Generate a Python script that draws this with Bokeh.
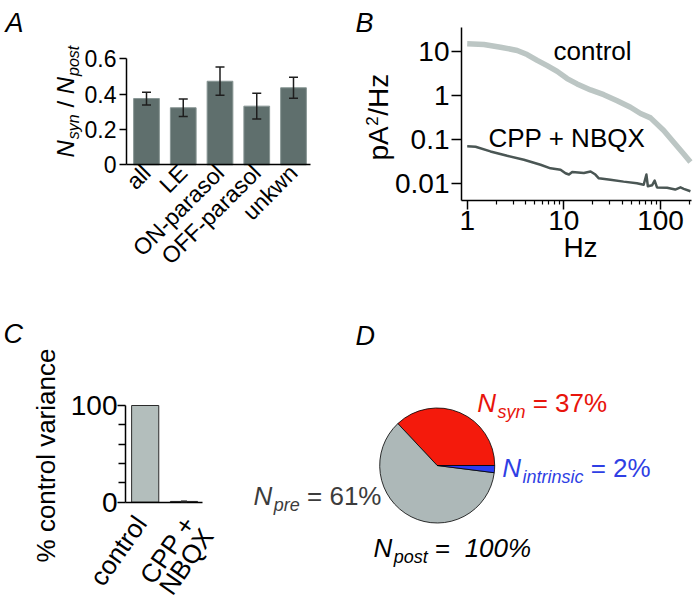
import math
import numpy as np
from bokeh.plotting import figure
from bokeh.layouts import column, row
from bokeh.models import (Range1d, FixedTicker, CustomJSTickFormatter, Label,
                          Whisker, ColumnDataSource, TeeHead)
from bokeh.embed import file_html
from bokeh.resources import INLINE

FONT = "Liberation Sans"

# ---------------- data ----------------
# Panel A
cell_types = ["all", "LE", "ON-parasol", "OFF-parasol", "unkwn"]
nsyn_over_npost = [0.375, 0.323, 0.473, 0.332, 0.436]
nsyn_sem = [0.036, 0.050, 0.080, 0.073, 0.060]
ratio_ticks = [0, 0.2, 0.4, 0.6]

# Panel B
freq_control = [1.0, 1.49, 2.21, 3.29, 4.17, 5.30, 6.72, 8.53, 10.8, 13.7,
                18.9, 25.9, 35.6, 48.9, 62.1, 78.8, 108, 137, 174, 204]
psd_control = [14.7, 14.2, 12.3, 10.4, 8.4, 6.2, 4.7, 3.5, 2.4, 1.82,
               1.33, 1.04, 0.76, 0.54, 0.39, 0.31, 0.16, 0.087, 0.047, 0.031]
freq_cpp = [1.0, 1.22, 1.74, 2.59, 3.86, 5.74, 7.28, 9.24, 10.4, 11.3,
            12.2, 16.1, 18.9, 21.2, 23.0, 30.3, 41.5, 57.0, 67.0, 71.5,
            74.0, 82.0, 87.0, 92.0, 117, 142, 161, 174, 204]
psd_cpp = [0.0706, 0.069, 0.054, 0.043, 0.035, 0.027, 0.0224, 0.0209, 0.0173, 0.0162,
           0.0184, 0.0176, 0.019, 0.0162, 0.0133, 0.0124, 0.0112, 0.0103, 0.0095, 0.0162,
           0.0088, 0.0093, 0.0118, 0.0083, 0.0081, 0.0074, 0.0083, 0.0077, 0.0068]
psd_ticks = [0.01, 0.1, 1, 10]
freq_ticks = [1, 10, 100]
freq_minor = [2, 3, 4, 5, 6, 7, 8, 9, 20, 30, 40, 50, 60, 70, 80, 90, 200]

# Panel C
conditions = ["control", "CPP +\nNBQX"]
variance_pct = [100, 0.8]
variance_err = [0, 0.5]
variance_ticks = [0, 100]
variance_minor = [20, 40, 60, 80]

# Panel D
components = ["syn", "pre", "intrinsic"]
component_pct = [37, 61, 2]
component_colors = ["#f41a0c", "#adb8b8", "#2c3df2"]

# ---------------- helpers ----------------
W_EM = {' ': 278, '%': 889, '+': 584, '/': 278, '=': 584, 'A': 667, 'B': 667,
        'C': 722, 'H': 722, 'N': 722, 'P': 667, 'Q': 778, 'X': 667, 'a': 556,
        'c': 500, 'e': 556, 'i': 222, 'l': 222, 'n': 556, 'o': 556, 'p': 556,
        'r': 333, 's': 500, 't': 278, 'y': 500, 'z': 500}
BASE_FIX = 0.37   # measured offset of the rendered baseline, in em


def tw(s, size):
    return sum(W_EM.get(c, 556) for c in s) * size / 1000.0


def lin_val(p, p0, v0, p1, v1):
    return v0 + (p - p0) * (v1 - v0) / (p1 - p0)


def lin_range(size, p0, v0, p1, v1):
    a, b = lin_val(0, p0, v0, p1, v1), lin_val(size, p0, v0, p1, v1)
    return Range1d(min(a, b), max(a, b))


def log_val(p, p0, v0, p1, v1):
    return 10 ** lin_val(p, p0, math.log10(v0), p1, math.log10(v1))


def log_range(size, p0, v0, p1, v1):
    a, b = log_val(0, p0, v0, p1, v1), log_val(size, p0, v0, p1, v1)
    return Range1d(min(a, b), max(a, b))


def panel_fig(panel, **kw):
    x0, y0, w, h = panel
    p = figure(width=w, height=h, output_backend="svg", toolbar_location=None,
               min_border_left=0, min_border_top=0, min_border_right=0,
               min_border_bottom=0, **kw)
    p.outline_line_color = None
    p.grid.visible = False
    p.border_fill_color = "white"
    p.background_fill_color = "white"
    return p


def style_axis(ax, size, tick_out, standoff):
    ax.axis_line_color = "black"
    ax.axis_line_width = 1.5
    ax.major_tick_line_color = "black"
    ax.major_tick_line_width = 1.5
    ax.minor_tick_line_color = "black"
    ax.minor_tick_line_width = 1.2
    ax.major_tick_in = 0
    ax.minor_tick_in = 0
    ax.major_tick_out = tick_out
    ax.major_label_text_font = FONT
    ax.major_label_text_font_size = f"{size}px"
    ax.major_label_text_color = "black"
    ax.major_label_standoff = standoff


def put(p, panel, px, py, text, size, color="black", style="normal", angle=0.0, align="left"):
    x0, y0, w, h = panel
    px -= BASE_FIX * size * math.sin(angle)
    py -= BASE_FIX * size * math.cos(angle)
    p.add_layout(Label(x=px - x0, y=h - (py - y0), x_units="screen", y_units="screen",
                       text=text, text_font=FONT, text_font_size=f"{size}px",
                       text_color=color, text_font_style=style, angle=angle,
                       text_align=align, text_baseline="alphabetic"))


def put_at_data(p, x, y, dx, dy, text, size, angle=0.0, align="right", color="black"):
    # (dx, dy): pixel offset of the baseline anchor from the data point, dy downwards
    dx -= BASE_FIX * size * math.sin(angle)
    dy -= BASE_FIX * size * math.cos(angle)
    p.add_layout(Label(x=x, y=y, x_offset=dx, y_offset=-dy, text=text, text_font=FONT,
                       text_font_size=f"{size}px", text_color=color, angle=angle,
                       text_align=align, text_baseline="alphabetic"))


def rich(p, panel, px, py, parts, angle=0.0):
    ux, uy = math.cos(angle), -math.sin(angle)
    dx, dy = math.sin(angle), math.cos(angle)
    pos = 0.0
    for text, size, style, color, shift, gap in parts:
        x = px + ux * pos + dx * shift
        y = py + uy * pos + dy * shift
        put(p, panel, x, y, text, size, color, style, angle)
        pos += tw(text, size) + gap


# ---------------- Panel A ----------------
PA = (0, 0, 340, 290)
ax_map = (146, 0, 293, 4)            # page-x pixel <-> bar index
ay_map = (164.3, 0, 58.3, 0.6)       # page-y pixel <-> ratio
pA = panel_fig(PA, x_range=lin_range(PA[2], ax_map[0] - PA[0], ax_map[1], ax_map[2] - PA[0], ax_map[3]),
               y_range=lin_range(PA[3], ay_map[0] - PA[1], ay_map[1], ay_map[2] - PA[1], ay_map[3]))
xa = list(range(len(cell_types)))
srcA = ColumnDataSource(dict(x=xa, top=nsyn_over_npost,
                             upper=[v + e for v, e in zip(nsyn_over_npost, nsyn_sem)],
                             lower=[v - e for v, e in zip(nsyn_over_npost, nsyn_sem)]))
pA.vbar(x="x", top="top", width=0.7, bottom=0, source=srcA,
        fill_color="#5f6f6d", line_color="#889694", line_width=1)
wA = Whisker(base="x", upper="upper", lower="lower", source=srcA,
             line_color="#1e1e1e", line_width=1.5, level="annotation",
             upper_head=TeeHead(size=9, line_color="#1e1e1e", line_width=1.5),
             lower_head=TeeHead(size=9, line_color="#1e1e1e", line_width=1.5))
pA.add_layout(wA)
a_left = lin_val(126, *ax_map)
a_right = lin_val(310, *ax_map)
ay = pA.yaxis[0]
style_axis(ay, 23, 7, 3)
ay.ticker = FixedTicker(ticks=ratio_ticks, minor_ticks=[])
ay.formatter = CustomJSTickFormatter(code="return tick == 0 ? '0' : tick.toFixed(1);")
ay.fixed_location = a_left
ay.bounds = (0, 0.6)
axA = pA.xaxis[0]
style_axis(axA, 23, 0, 4)
axA.ticker = FixedTicker(ticks=xa, minor_ticks=[])
axA.formatter = CustomJSTickFormatter(args=dict(names=cell_types),
                                      code="return names[Math.round(tick)];")
axA.major_label_orientation = math.pi / 4
axA.fixed_location = 0
axA.bounds = (a_left, a_right)
put(pA, PA, 5, 32, "A", 27, style="italic")
rich(pA, PA, 73.5, 157, [
    ("N", 24, "italic", "black", 0, 1),
    ("syn", 16, "italic", "black", 5, tw(" ", 24)),
    ("/", 24, "normal", "black", 0, tw(" ", 24)),
    ("N", 24, "italic", "black", 0, 1),
    ("post", 16, "italic", "black", 5, 0),
], angle=math.pi / 2)

# ---------------- Panel B ----------------
PB = (340, 0, 353, 290)
bx_map = (466.7, 1, 660, 100)        # page-x pixel <-> Hz
by_map = (50.7, 10, 183.3, 0.01)     # page-y pixel <-> pA^2/Hz
pB = panel_fig(PB, x_axis_type="log", y_axis_type="log",
               x_range=log_range(PB[2], bx_map[0] - PB[0], bx_map[1], bx_map[2] - PB[0], bx_map[3]),
               y_range=log_range(PB[3], by_map[0] - PB[1], by_map[1], by_map[2] - PB[1], by_map[3]))
pB.line(freq_control, psd_control, line_color="#bcc6c4", line_width=5.5, line_join="round")
pB.line(freq_cpp, psd_cpp, line_color="#4a5654", line_width=2.5, line_join="round")
b_left = log_val(461, *bx_map)
b_right = log_val(690.7, *bx_map)
b_bottom = log_val(199.5, *by_map)
b_top = log_val(27, *by_map)
bx = pB.xaxis[0]
style_axis(bx, 28, 9, 2)
bx.minor_tick_out = 4
bx.ticker = FixedTicker(ticks=freq_ticks, minor_ticks=freq_minor)
bx.formatter = CustomJSTickFormatter(code="return String(tick);")
bx.fixed_location = b_bottom
bx.bounds = (b_left, b_right)
by = pB.yaxis[0]
style_axis(by, 28, 10, 2)
by.minor_tick_out = 0
by.ticker = FixedTicker(ticks=psd_ticks, minor_ticks=[])
by.formatter = CustomJSTickFormatter(code="return String(tick);")
by.fixed_location = b_left
by.bounds = (b_bottom, b_top)
put(pB, PB, 355, 32, "B", 27, style="italic")
put(pB, PB, 553, 60, "control", 26)
put(pB, PB, 488, 146.7, "CPP + NBQX", 26)
put(pB, PB, 580, 257, "Hz", 28, align="center")
rich(pB, PB, 388, 160, [
    ("pA", 28, "normal", "black", 0, 0.5),
    ("2", 17, "normal", "black", -10, 0.5),
    ("/Hz", 28, "normal", "black", 0, 0),
], angle=math.pi / 2)

# ---------------- Panel C ----------------
PC = (0, 290, 240, 320)
cx_map = (144.7, 0, 183.5, 1)
cy_map = (501.7, 0, 405, 100)
pC = panel_fig(PC, x_range=lin_range(PC[2], cx_map[0] - PC[0], cx_map[1], cx_map[2] - PC[0], cx_map[3]),
               y_range=lin_range(PC[3], cy_map[0] - PC[1], cy_map[1], cy_map[2] - PC[1], cy_map[3]))
xc = list(range(len(conditions)))
srcC = ColumnDataSource(dict(x=xc, top=variance_pct,
                             upper=[v + e for v, e in zip(variance_pct, variance_err)],
                             lower=[max(v - e, 0) for v, e in zip(variance_pct, variance_err)]))
pC.vbar(x="x", top="top", width=0.7, bottom=0, source=srcC,
        fill_color="#b3bebc", line_color="#2b2b2b", line_width=1)
wC = Whisker(base="x", upper="upper", lower="lower", source=srcC,
             line_color="#2b2b2b", line_width=1, level="annotation",
             upper_head=TeeHead(size=6, line_color="#2b2b2b", line_width=1),
             lower_head=TeeHead(size=6, line_color="#2b2b2b", line_width=1))
pC.add_layout(wC)
c_left = lin_val(125, *cx_map)
c_right = lin_val(201.7, *cx_map)
cy = pC.yaxis[0]
style_axis(cy, 28, 8, 0)
cy.minor_tick_out = 7
cy.minor_tick_line_width = 1.5
cy.ticker = FixedTicker(ticks=variance_ticks, minor_ticks=variance_minor)
cy.fixed_location = c_left
cy.bounds = (0, 100)
cxa = pC.xaxis[0]
style_axis(cxa, 25, 0, 4)
cxa.ticker = FixedTicker(ticks=xc, minor_ticks=[])
cxa.formatter = CustomJSTickFormatter(code="return '';")
cxa.fixed_location = 0
cxa.bounds = (c_left, c_right)
# rotated, right-aligned category labels (one Label per line), tied to the tick positions
c_ang = math.radians(55)
line_gap = 22
label_dx = [3.3, 13.3]
for i, name in enumerate(conditions):
    for j, line in enumerate(name.split("\n")):
        put_at_data(pC, xc[i], 0, label_dx[i] + j * line_gap * math.sin(c_ang),
                    22 + j * line_gap * math.cos(c_ang), line, 26, angle=c_ang)
put(pC, PC, 3, 343, "C", 27, style="italic")
put(pC, PC, 55, 455, "% control variance", 26, angle=math.pi / 2, align="center")

# ---------------- Panel D ----------------
PD = (240, 290, 453, 320)
pD = panel_fig(PD, x_range=Range1d(0, PD[2]), y_range=Range1d(0, PD[3]),
               x_axis_location=None, y_axis_location=None)
frac = np.array(component_pct, dtype=float) / np.sum(component_pct)
ends = np.cumsum(frac) * 2 * math.pi
starts = np.concatenate([[0.0], ends[:-1]])
srcD = ColumnDataSource(dict(start=starts, end=ends, color=component_colors))
pie_cx, pie_cy = 436.7 - PD[0], PD[3] - (465 - PD[1])
pD.wedge(x=pie_cx, y=pie_cy, radius=57.5, start_angle="start", end_angle="end",
         fill_color="color", line_color="black", line_width=0.8, source=srcD)
put(pD, PD, 355, 345, "D", 27, style="italic")
sp = tw(" ", 26)
red, blue, grey = "#e8140c", "#2f3fe4", "#3c3c3c"
rich(pD, PD, 476.7, 412, [
    ("N", 26, "italic", red, 0, 1.5),
    ("syn", 18, "italic", red, 6, sp),
    ("= 37%", 26, "normal", red, 0, 0)])
rich(pD, PD, 501.7, 477, [
    ("N", 26, "italic", blue, 0, 1.5),
    ("intrinsic", 18, "italic", blue, 6, sp),
    ("= 2%", 26, "normal", blue, 0, 0)])
rich(pD, PD, 253, 505, [
    ("N", 26, "italic", grey, 0, 1.5),
    ("pre", 18, "italic", grey, 6, sp),
    ("= 61%", 26, "normal", grey, 0, 0)])
rich(pD, PD, 373, 557, [
    ("N", 26, "italic", "black", 0, 1.5),
    ("post", 18, "italic", "black", 6, sp),
    ("=", 26, "normal", "black", 0, 2 * sp),
    ("100%", 26, "italic", "black", 0, 0)])

layout = column(row(pA, pB), row(pC, pD))
open("out.html", "w").write(file_html(layout, INLINE))
